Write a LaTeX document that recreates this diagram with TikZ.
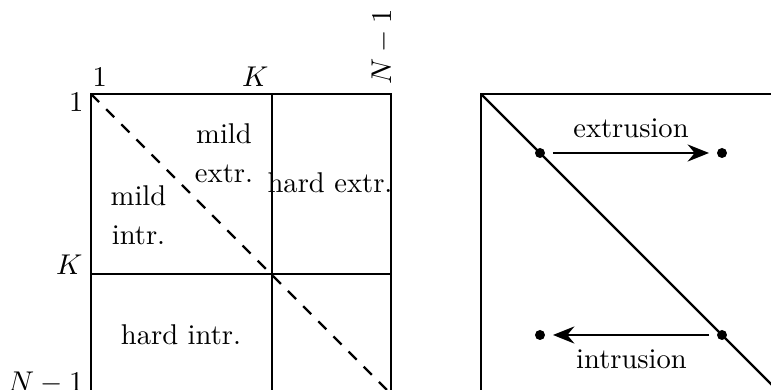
\documentclass[tikz,border=0pt]{standalone}
\usetikzlibrary{arrows.meta}
\begin{document}
\begin{tikzpicture}[x=0.35pt,y=-0.35pt,
  ln/.style={line width=0.75pt},
  dot/.style={circle,fill=black,inner sep=0pt,minimum size=3.5pt},
  lbl/.style={inner sep=0pt},
  arr/.style={ln,-{Stealth[length=7.5pt,width=6pt,inset=2.5pt]},shorten <=2.6pt,shorten >=2.6pt}]
\useasboundingbox (0,0) rectangle (771,390);
\clip (0,0) rectangle (771,390);
% left matrix
\coordinate (LA) at (91,94);
\coordinate (LB) at (391,394);
\coordinate (KT) at (272,94);
\coordinate (KB) at (272,394);
\coordinate (KL) at (91,274);
\coordinate (KR) at (391,274);
\draw[ln] (LA) rectangle (LB);
\draw[ln] (KT) -- (KB);
\draw[ln] (KL) -- (KR);
\draw[ln,dash pattern=on 4pt off 3.5pt] (LA) -- (LB);
\node[lbl,anchor=base west] (t1) at (92,87) {1};
\node[lbl,anchor=base east] (tK) at (269,87) {$K$};
\node[lbl,anchor=base west,rotate=90] (tN) at (391,85) {$N-1$};
\node[lbl,anchor=base east] (l1) at (84,112) {1};
\node[lbl,anchor=base east] (lK) at (83,275) {$K$};
\node[lbl,anchor=base east] (lN) at (84,392) {$N-1$};
\node[lbl,align=center] (me) at (224,153) {mild\\[1.8pt]extr.};
\node[lbl,align=center] (mi) at (138.5,215.5) {mild\\[1.8pt]intr.};
\node[lbl,anchor=base] (he) at (330,193) {hard extr.};
\node[lbl,anchor=base] (hi) at (181,345) {hard intr.};
% right matrix
\coordinate (RA) at (481,94);
\coordinate (RB) at (781,394);
\draw[ln] (RA) rectangle (RB);
\draw[ln] (RA) -- (RB);
\node[dot] (d1) at (540,153) {};
\node[dot] (d2) at (722,153) {};
\node[dot] (d3) at (722,335) {};
\node[dot] (d4) at (540,335) {};
\draw[arr] (d1) -- (d2);
\draw[arr] (d3) -- (d4);
\node[lbl,anchor=base] (ex) at (631,138) {extrusion};
\node[lbl,anchor=base] (in) at (631.5,369) {intrusion};
\end{tikzpicture}
\end{document}
